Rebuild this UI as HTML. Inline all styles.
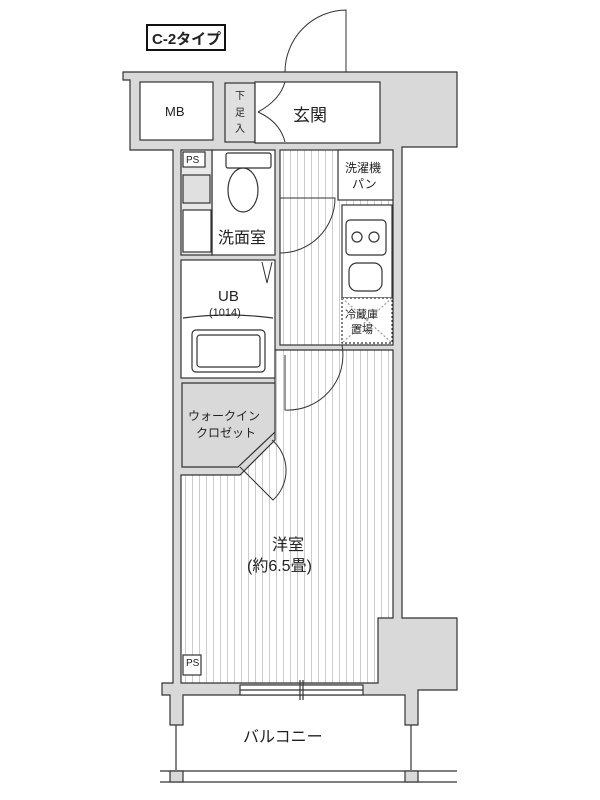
<!DOCTYPE html>
<html><head><meta charset="utf-8"><style>body{margin:0;background:#fff}svg{display:block}text{font-family:"Liberation Sans","Noto Sans CJK JP",sans-serif;fill:#222}</style></head><body>
<svg width="600" height="800" viewBox="0 0 600 800">
<defs><pattern id="st" width="7" height="10" patternUnits="userSpaceOnUse"><rect width="7" height="10" fill="#fff"/><line x1="3.5" y1="0" x2="3.5" y2="10" stroke="#ccc" stroke-width="1"/></pattern></defs>
<g stroke="#333" stroke-width="1.2">
<path d="M123 72 H457 V147 H402 V618 H457 V690 H418 V725 H405 V695 H183 V725 H170 V695 H162 V683 H173 V150 H130 V80 H123 Z" fill="#d9d9d9"/>
</g>
<g stroke="#333" stroke-width="1.2">
<rect x="140" y="82" width="73" height="58" fill="#fff"/>
<rect x="225" y="83" width="30" height="59" fill="#e0e0e0"/>
<rect x="255" y="82" width="125" height="61" fill="#fff"/>
<rect x="280" y="150" width="113" height="195" fill="url(#st)"/>
<path d="M181 475 H240 L275 440 V350 H393 V618 H378 V683 H181 Z" fill="url(#st)"/>
<rect x="212" y="150" width="63" height="105" fill="#fff"/>
<rect x="181" y="150" width="31" height="105" fill="#e8e8e8"/>
<rect x="183" y="152" width="22" height="15" fill="#fff"/>
<rect x="183" y="175" width="27" height="28" fill="#e0e0e0"/>
<rect x="183" y="210" width="28" height="42" fill="#fff"/>
<rect x="181" y="260" width="94" height="118" fill="#fff"/>
<rect x="192" y="330" width="73" height="42" rx="4" fill="#fff"/>
<rect x="197" y="335" width="63" height="32" rx="3" fill="#fff"/>
<path d="M182 383 H275 V432 L238 467 H182 Z" fill="#d9d9d9"/>
<rect x="338" y="150" width="55" height="50" fill="#fff"/>
<rect x="342" y="205" width="50" height="93" fill="#fff"/>
<rect x="346" y="220" width="40" height="35" rx="4" fill="#fff"/>
<circle cx="357" cy="237" r="5" fill="#fff"/><circle cx="374" cy="237" r="5" fill="#fff"/>
<rect x="349" y="263" width="33" height="28" rx="8" fill="#fff"/>
<rect x="342" y="298" width="50" height="45" fill="#fff" stroke-dasharray="2 2"/>
<path d="M342 298 L392 343 M392 298 L342 343" stroke="#999" stroke-dasharray="2 2"/>
<rect x="226" y="153" width="45" height="15" rx="2" fill="#fff"/>
<ellipse cx="243" cy="190" rx="15" ry="22" fill="#fff"/>
<rect x="183" y="655" width="18" height="20" fill="#fff"/>
<rect x="240" y="685" width="123" height="10" fill="#fff"/>
<line x1="240" y1="690" x2="363" y2="690"/>
<line x1="300" y1="680" x2="300" y2="700"/><line x1="303" y1="680" x2="303" y2="700"/>
<line x1="176" y1="725" x2="176" y2="770"/><line x1="411" y1="725" x2="411" y2="770"/>
<line x1="160" y1="771" x2="457" y2="771"/><line x1="160" y1="782" x2="457" y2="782"/>
<rect x="170" y="771" width="13" height="11" fill="#d9d9d9"/><rect x="405" y="771" width="13" height="11" fill="#d9d9d9"/>
<path d="M183 318 Q228 312 273 318" fill="none"/>
</g>
<g fill="none" stroke="#333" stroke-width="1">
<path d="M346 72 V10 A62 62 0 0 0 285 72"/>
<path d="M258 112 Q280 100 285 82 M258 112 Q280 122 285 142"/>
<path d="M280 198 H335 A55 55 0 0 1 280 253"/>
<path d="M285 355 V410 A55 55 0 0 0 342 345"/>
<path d="M240 467 L273 500 A40 40 0 0 0 272 440"/>
<path d="M262 262 L267 283 L272 262"/>
</g>
<rect x="147" y="25" width="78" height="25" fill="#fff" stroke="#111" stroke-width="2"/>
<text x="152" y="44" font-size="15" font-weight="bold">C-2タイプ</text>
<text x="165" y="116" font-size="13">MB</text>
<text x="235" y="99" font-size="10">下</text><text x="235" y="116" font-size="10">足</text><text x="235" y="132" font-size="10">入</text>
<text x="293" y="121" font-size="17">玄関</text>
<text x="186" y="163" font-size="10">PS</text>
<text x="186" y="666" font-size="10">PS</text>
<text x="218" y="243" font-size="16">洗面室</text>
<text x="345" y="172" font-size="12">洗濯機</text><text x="352" y="188" font-size="12">パン</text>
<text x="345" y="318" font-size="11" fill="#555">冷蔵庫</text><text x="351" y="333" font-size="11" fill="#555">置場</text>
<text x="218" y="301" font-size="15">UB</text>
<text x="209" y="316" font-size="11">(1014)</text>
<text x="188" y="420" font-size="12">ウォークイン</text><text x="196" y="437" font-size="12">クロゼット</text>
<text x="272" y="550" font-size="16">洋室</text>
<text x="247" y="571" font-size="16">(約6.5畳)</text>
<text x="243" y="742" font-size="16">バルコニー</text>
</svg>
</body></html>
